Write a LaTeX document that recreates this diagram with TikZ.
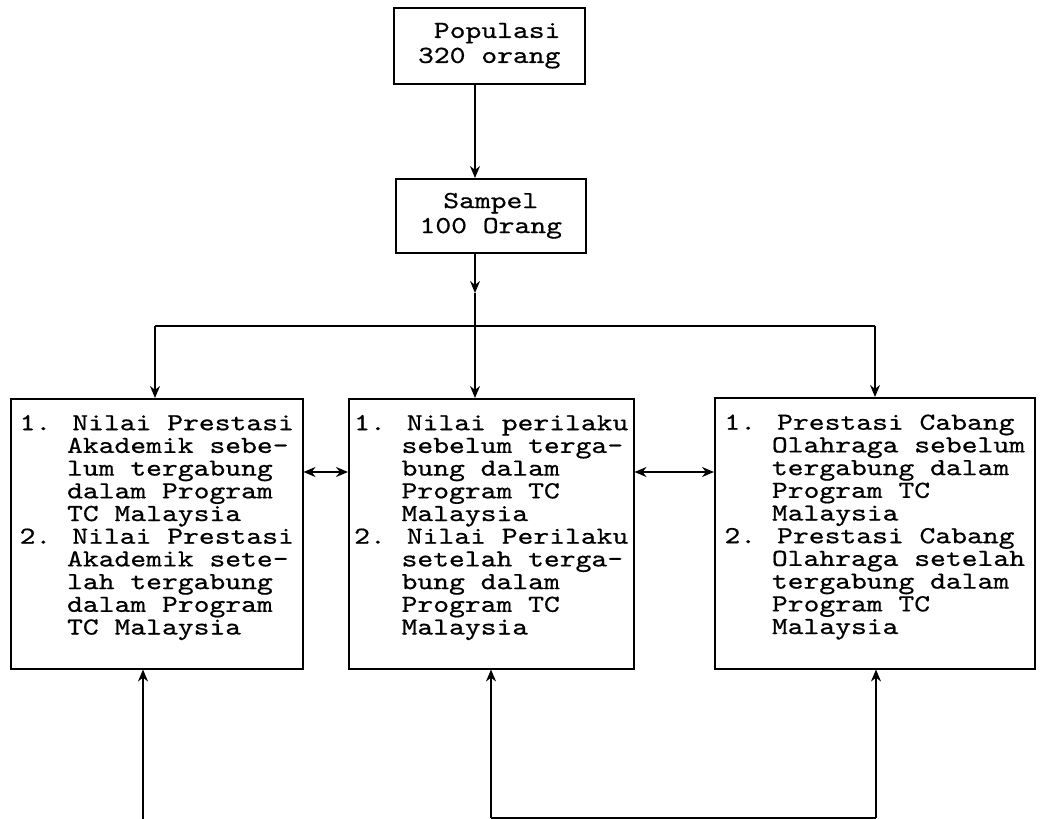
\documentclass[tikz,border=0pt]{standalone}
\usepackage{fontspec}
\newfontfamily\boxfont{lmmono10-regular}[Extension=.otf, FakeStretch=1.23, FakeBold=0.6]
\usetikzlibrary{arrows.meta}
\newcommand{\ind}{\hphantom{1.~}}
\newcommand{\lowend}{\rule[-18pt]{0pt}{0pt}}

\begin{document}
\begin{tikzpicture}[x=1pt, y=-1pt,
  box/.style={draw, line width=1.5pt, inner sep=0pt, anchor=north west,
    align=left, font=\boxfont\fontsize{24.5}{22.7}\selectfont},
  >={Stealth[length=12pt, width=10pt]}, line width=1.5pt
]
  \useasboundingbox (0,0) rectangle (1042,819);

  \node[box, minimum width=191pt, minimum height=76pt,
    font=\boxfont\fontsize{24.5}{25}\selectfont] (pop) at (393,7)
    {\hphantom{3}Populasi\\320 orang};
  \node[box, minimum width=190pt, minimum height=74pt, align=center,
    font=\boxfont\fontsize{24.5}{25}\selectfont] (sam) at (395,178)
    {Sampel\\100 Orang};

  \node[box, minimum width=292pt, minimum height=270pt] (akad) at (10,398)
    {1. Nilai Prestasi\\\ind Akademik sebe-\\\ind lum tergabung\\
     \ind dalam Program\\\ind TC Malaysia\\
     2. Nilai Prestasi\\\ind Akademik sete-\\\ind lah tergabung\\
     \ind dalam Program\\\ind TC Malaysia\lowend};
  \node[box, minimum width=285pt, minimum height=270pt] (prlk) at (348,398)
    {1. Nilai perilaku\\\ind sebelum terga-\\\ind bung dalam\\
     \ind Program TC\\\ind Malaysia\\
     2. Nilai Perilaku\\\ind setelah terga-\\\ind bung dalam\\
     \ind Program TC\\\ind Malaysia\lowend};
  \node[box, minimum width=320pt, minimum height=271pt] (olah) at (714,397)
    {1. Prestasi Cabang\\\ind Olahraga sebelum\\\ind tergabung dalam\\
     \ind Program TC\\\ind Malaysia\\
     2. Prestasi Cabang\\\ind Olahraga setelah\\\ind tergabung dalam\\
     \ind Program TC\\\ind Malaysia\lowend};

  \coordinate (mid) at (475,293);
  \coordinate (j) at (475,326);
  \coordinate (jl) at (155,326);
  \coordinate (jr) at (875,326);
  \coordinate (h) at (0,472);
  \coordinate (bl) at (143,819);
  \coordinate (bm) at (491,818);
  \coordinate (br) at (876,818);

  \draw[->] (pop.south -| j) -- (sam.north -| j);
  \draw[->] (sam.south -| j) -- (mid);
  \draw (mid) -- (j);
  \draw (jl) -- (jr);
  \draw[->] (j) -- (prlk.north -| j);
  \draw[->] (jl) -- (akad.north -| jl);
  \draw[->] (jr) -- (olah.north -| jr);

  \draw[<->] (akad.east |- h) -- (prlk.west |- h);
  \draw[<->] (prlk.east |- h) -- (olah.west |- h);

  \draw[->] (bl) -- (akad.south -| bl);
  \draw[->] (bm) -- (prlk.south -| bm);
  \draw[->] (br) -- (olah.south -| br);
  \draw (bm) -- (br);
\end{tikzpicture}
\end{document}
